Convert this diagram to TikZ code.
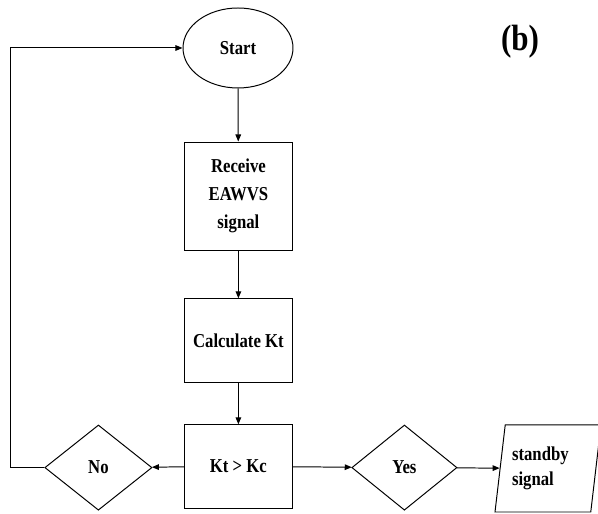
\documentclass[tikz,border=0pt]{standalone}
\usepackage{fontspec}
\setmainfont{Liberation Serif}
\newfontfamily\chartfont[FakeStretch=0.85]{Liberation Serif}
\usetikzlibrary{shapes.geometric,arrows.meta}

\begin{document}
\begin{tikzpicture}[
every node/.style={font=\chartfont\bfseries\fontsize{14}{20}\selectfont, align=center},
box/.style={draw, line width=0.7pt, minimum width=2.68cm},
choice/.style={draw, diamond, line width=0.7pt, minimum width=2.68cm, minimum height=2.13cm, inner sep=0pt, aspect=1.26},
flow/.style={-{Triangle[length=5pt,width=4pt]}, line width=0.7pt}
]
    \useasboundingbox (0,0) rectangle (14.95,12.85);

    % Main column
    \node[draw, ellipse, line width=0.7pt, minimum width=2.75cm, minimum height=2.0cm] (start) at (5.95,11.65) {Start};
    \node[box, minimum height=2.7cm] (receive) at (5.96,7.95) {Receive\\EAWVS\\signal};
    \node[box, minimum height=2.1cm] (calc) at (5.96,4.33) {Calculate Kt};
    \node[box, minimum height=2.08cm] (compare) at (5.96,1.19) {Kt > Kc};

    % Decisions
    \node[choice] (no) at (2.46,1.16) {No};
    \node[choice, minimum width=2.63cm] (yes) at (10.11,1.16) {Yes};

    % Output
    \node[draw, trapezium, trapezium left angle=79, trapezium right angle=101,
          trapezium stretches body, line width=0.7pt, minimum width=2.65cm,
          minimum height=2.18cm, align=left, text width=1.8cm, inner xsep=0pt,
          font=\chartfont\bfseries\fontsize{14}{18}\selectfont] (standby) at (13.7,1.14) {standby\\signal};

    % Label
    \node[font=\chartfont\bfseries\fontsize{26}{30}\selectfont] (tag) at (13.0,11.8) {(b)};

    % Connectors
    \draw[flow] (start) -- (receive);
    \draw[flow] (receive) -- (calc);
    \draw[flow] (calc) -- (compare);
    \draw[flow] (compare) -- (no);
    \draw[flow] (compare) -- (yes);
    \draw[flow] (yes) -- (standby);

    % Loop back
    \coordinate (loopcorner) at (0.25,1.16);
    \draw[flow] (no.west) -- (loopcorner) |- (start.west);

\end{tikzpicture}
\end{document}
